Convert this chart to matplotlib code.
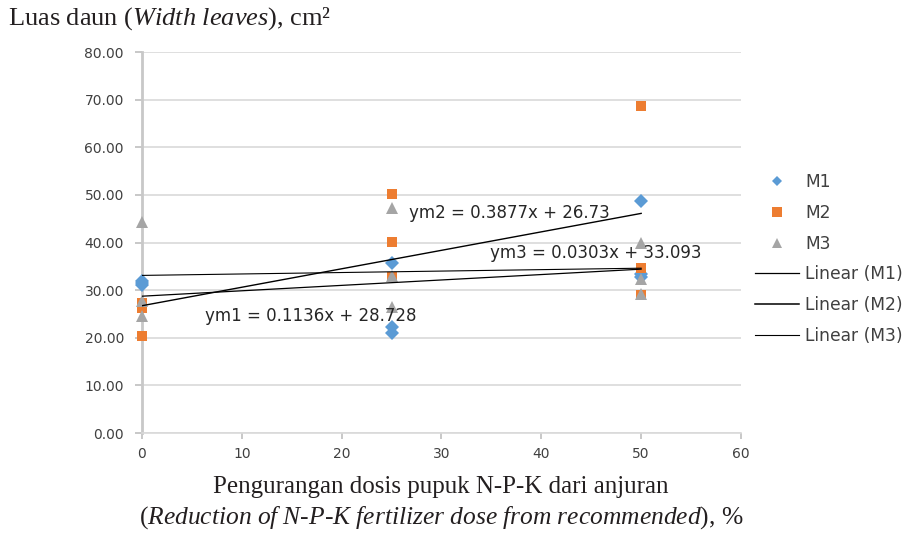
import numpy as np
import matplotlib
matplotlib.use("Agg")
import matplotlib.pyplot as plt
from matplotlib.lines import Line2D

# dose reduction (%) and replicate leaf area values (cm2)
dose = [0, 25, 50]
m1 = [[31.9, 31.1, 31.4], [35.6, 22.3, 21.0], [48.8, 33.4, 32.8]]
m2 = [[27.4, 26.3, 20.4], [50.2, 40.1, 32.8], [68.6, 34.7, 29.0]]
m3 = [[44.4, 27.8, 24.5], [47.2, 32.9, 26.5], [40.0, 32.4, 29.2]]

# trend line coefficients (slope, intercept) as printed on the chart
fit_m1 = (0.1136, 28.728)
fit_m2 = (0.3877, 26.73)
fit_m3 = (0.0303, 33.093)

eq_labels = ["ym1 = 0.1136x + 28.728", "ym2 = 0.3877x + 26.73", "ym3 = 0.0303x + 33.093"]

yticks = [0, 10, 20, 30, 40, 50, 60, 70, 80]
xticks = [0, 10, 20, 30, 40, 50, 60]

c_m1 = "#5B9BD5"
c_m2 = "#ED7D31"
c_m3 = "#A5A5A5"
xl_font = "DejaVu Sans"
tick_col = "#404040"

plt.rcParams["mathtext.fontset"] = "custom"
plt.rcParams["mathtext.rm"] = "Liberation Serif"
plt.rcParams["mathtext.it"] = "Liberation Serif:italic"

fig = plt.figure(figsize=(9.13, 5.33), dpi=100)
ax = fig.add_axes([0.1555, 0.1876, 0.6561, 0.7148])


def scatter_series(vals, marker, color, size):
    xs = np.repeat(dose, [len(v) for v in vals])
    ys = np.concatenate(vals)
    ax.plot(xs, ys, linestyle="none", marker=marker, color=color,
            markersize=size, markeredgewidth=0, zorder=5, clip_on=False)


scatter_series(m1, "D", c_m1, 6.8)
scatter_series(m2, "s", c_m2, 7.5)
scatter_series(m3, "^", c_m3, 8)

xl = np.array([dose[0], dose[-1]])
for (a, b), lw in zip([fit_m1, fit_m2, fit_m3], [0.9, 1.0, 0.8]):
    ax.plot(xl, a * xl + b, color="black", lw=lw, zorder=6)

ax.text(6.3, 24.6, eq_labels[0], fontsize=12, family=xl_font, color="#262626",
        va="center", ha="left", zorder=7)
ax.text(26.7, 46.3, eq_labels[1], fontsize=12, family=xl_font, color="#262626",
        va="center", ha="left", zorder=7)
ax.text(34.9, 37.8, eq_labels[2], fontsize=12, family=xl_font, color="#262626",
        va="center", ha="left", zorder=7)

ax.set_xlim(0, 60)
ax.set_ylim(0, 80)
ax.set_yticks(yticks)
ax.set_yticklabels(["%.2f" % v for v in yticks])
ax.set_xticks(xticks)
ax.set_xticklabels([str(v) for v in xticks])
for lab in ax.get_xticklabels() + ax.get_yticklabels():
    lab.set_family(xl_font)
    lab.set_fontsize(10)
    lab.set_color(tick_col)

ax.grid(axis="y", color="#D9D9D9", lw=1.2, zorder=0)
ax.set_axisbelow(True)
for s in ["top", "right"]:
    ax.spines[s].set_visible(False)
ax.spines["left"].set_color("#C8C8C8")
ax.spines["left"].set_linewidth(2)
ax.spines["left"].set_zorder(1)
ax.spines["bottom"].set_color("#D9D9D9")
ax.spines["bottom"].set_linewidth(1.2)
ax.tick_params(axis="y", length=5, color="#BFBFBF", width=1.2, pad=8)
ax.tick_params(axis="x", length=4, color="#BFBFBF", width=1.2, pad=6)

handles = [
    Line2D([], [], ls="none", marker="D", color=c_m1, markersize=5.5, markeredgewidth=0),
    Line2D([], [], ls="none", marker="s", color=c_m2, markersize=6.5, markeredgewidth=0),
    Line2D([], [], ls="none", marker="^", color=c_m3, markersize=7, markeredgewidth=0),
    Line2D([], [], color="black", lw=0.9),
    Line2D([], [], color="black", lw=1.1),
    Line2D([], [], color="black", lw=0.8),
]
labels = ["M1", "M2", "M3", "Linear (M1)", "Linear (M2)", "Linear (M3)"]
leg = fig.legend(handles, labels, loc="center left", bbox_to_anchor=(0.827, 0.514),
                 frameon=False, prop={"family": xl_font, "size": 12.3},
                 handlelength=2.6, handletextpad=0.35, labelspacing=0.75,
                 borderpad=0, borderaxespad=0)
for t in leg.get_texts():
    t.set_color(tick_col)

fig.text(0.009, 0.965, "Luas daun ($\\it{Width\\ leaves}$), cm\u00b2", fontsize=19,
         family="Liberation Serif", color="#231F20", va="center", ha="left")
fig.text(0.483, 0.086, "Pengurangan dosis pupuk N-P-K dari anjuran", fontsize=18,
         family="Liberation Serif", color="#231F20", va="center", ha="center")
fig.text(0.483, 0.028,
         "($\\it{Reduction\\ of\\ N\\text{-}P\\text{-}K\\ fertilizer\\ dose\\ from\\ recommended}$), %",
         fontsize=18.4, family="Liberation Serif", color="#231F20", va="center", ha="center")

fig.savefig("out.png", dpi=100)
